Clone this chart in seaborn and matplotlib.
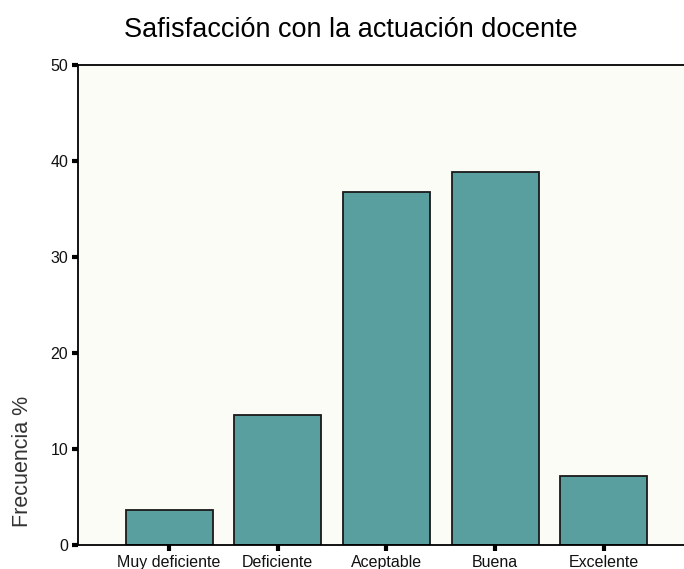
import matplotlib
matplotlib.use("Agg")
import matplotlib.pyplot as plt
import seaborn as sns
import pandas as pd

categories = ["Muy deficiente", "Deficiente", "Aceptable", "Buena", "Excelente"]
values = [3.6, 13.5, 36.8, 38.9, 7.2]
yticks = [0, 10, 20, 30, 40, 50]

sns.set_theme(style="white")
plt.rcParams["font.family"] = ["Liberation Sans", "DejaVu Sans"]

df = pd.DataFrame({"cat": categories, "val": values})

fig = plt.figure(figsize=(6.84, 5.69), dpi=100)
fig.patch.set_facecolor("white")
ax = fig.add_axes([78 / 684, 1 - 545 / 569, 1 - 78 / 684, (545 - 65) / 569])
ax.set_facecolor("#fcfcf7")

sns.barplot(data=df, x="cat", y="val", color="#5a9f9f", saturation=1,
            edgecolor="#1a1a1a", linewidth=1.3, width=0.8, ax=ax)

ax.set_xlim(-0.837, 4.736)
ax.set_ylim(0, 50)
ax.set_yticks(yticks)
ax.set_yticklabels([str(t) for t in yticks], fontsize=11.5, color="#111111")
ax.set_xticklabels(categories, fontsize=11.5, color="#111111")
ax.tick_params(axis="both", direction="out", length=4, width=3, color="black",
               bottom=True, left=True)
ax.tick_params(axis="x", pad=3)
ax.tick_params(axis="y", pad=3)

for s in ["left", "bottom", "top"]:
    ax.spines[s].set_visible(True)
    ax.spines[s].set_color("black")
    ax.spines[s].set_linewidth(1.3)
ax.spines["right"].set_visible(False)

ax.set_xlabel("")
ax.set_ylabel("Frecuencia %", fontsize=15.5, color="#333333")
ax.yaxis.set_label_coords(-0.075, 0.175)

fig.suptitle("Safisfacción con la actuación docente", x=351 / 684, y=1 - 30 / 569,
             va="center", fontsize=19.5, color="black")

fig.savefig("out.png", dpi=100)
